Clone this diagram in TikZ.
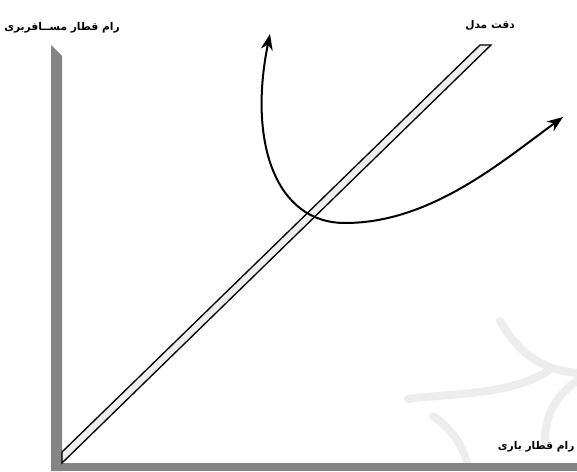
\documentclass[tikz,border=0pt]{standalone}
\usepackage{fontspec}
\usetikzlibrary{arrows.meta, positioning}
\TeXXeTstate=1
\newfontfamily\arabicfont[Script=Arabic]{DejaVu Sans}
\definecolor{axisc}{HTML}{858585}
\definecolor{bandc}{HTML}{EEEEEE}
\definecolor{markc}{HTML}{EDEDED}
\tikzset{
  axisbar/.style={fill=axisc, draw=none},
  band/.style={draw=black, fill=bandc, line width=1pt, line join=miter},
  trend/.style={-{Stealth[length=12pt,width=9pt]}, line width=1.5pt},
  wmark/.style={draw=markc, line width=6pt, line cap=round},
  lbl/.style={font=\arabicfont\fontsize{8}{10}\selectfont\bfseries, inner sep=1pt},
}

\begin{document}
\begin{tikzpicture}[x=0.75pt, y=0.75pt]
\useasboundingbox (0,0) rectangle (577,471);

% ---------------- watermark ----------------
\draw[wmark] (500,150) .. controls (522,112) and (548,100) .. (580,98);
\draw[wmark] (408,72) .. controls (455,78) and (510,76) .. (548,100);
\draw[wmark] (433,55) .. controls (452,42) and (463,25) .. (467,8);
\draw[wmark] (580,92) .. controls (558,78) and (545,58) .. (545,30);

% ---------------- axes ----------------
\path[axisbar] (51,426) -- (62,415) -- (62,0) -- (51,0) -- cycle;
\path[axisbar] (51,0) rectangle (577,8);
\coordinate (origin) at (62,8);

% ---------------- model band ----------------
\draw[band] (62,19) -- (480,426) -- (491,426) -- (origin) -- cycle;

% ---------------- curve ----------------
\coordinate (low) at (345,248);
\coordinate (tipl) at (270,437);
\coordinate (tipr) at (563,354);
\draw[trend] (low) .. controls (275,248) and (248,330) .. (tipl);
\draw[trend] (low) .. controls (430,248) and (500,308) .. (tipr);

% ---------------- labels ----------------
\node[lbl] (ylab) at (62,443) {\beginR رام قطار مســافربری\endR};
\node[lbl] (mlab) at (490,446) {\beginR دقت مدل\endR};
\node[lbl, anchor=east] (xlab) at (576,24) {\beginR رام قطار باری\endR};

\end{tikzpicture}
\end{document}
